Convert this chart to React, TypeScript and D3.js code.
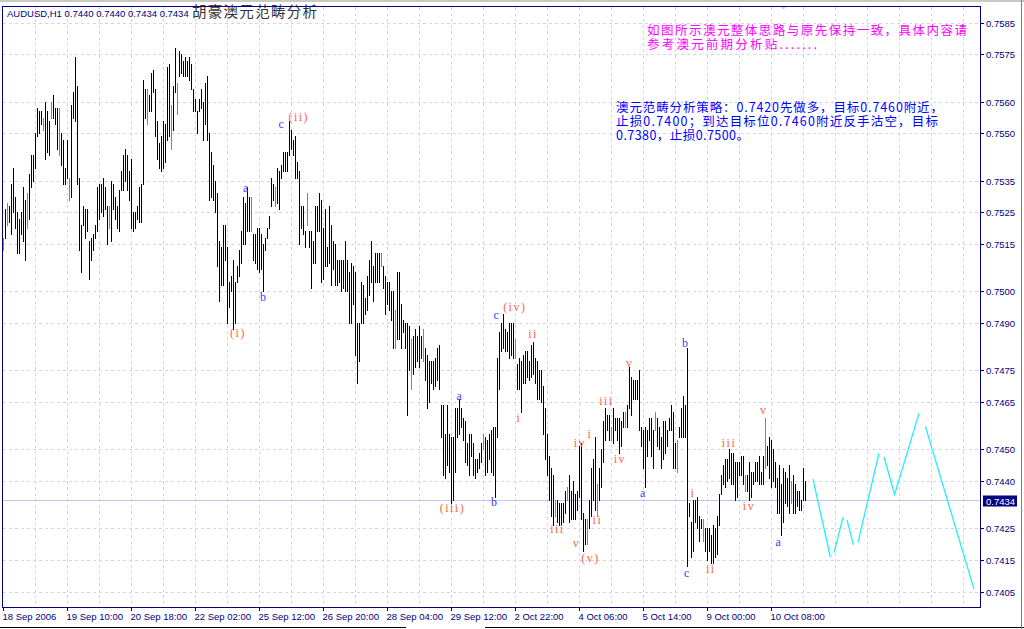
import React from 'react';
import * as d3 from 'd3';

// hourly bars, high / low
const highs = [
  0.7517, 0.7526, 0.7528, 0.7527, 0.7534, 0.7539, 0.7530, 0.7525, 0.7523, 0.7525,
  0.7533, 0.7529, 0.7531, 0.7537, 0.7543, 0.7543, 0.7550, 0.7558, 0.7557, 0.7557,
  0.7555, 0.7560, 0.7557, 0.7554, 0.7560, 0.7562, 0.7558, 0.7558, 0.7558, 0.7550,
  0.7548, 0.7539, 0.7548, 0.7536, 0.7559, 0.7563, 0.7574, 0.7565, 0.7536, 0.7521,
  0.7527, 0.7526, 0.7526, 0.7516, 0.7517, 0.7518, 0.7521, 0.7533, 0.7534, 0.7534,
  0.7536, 0.7533, 0.7527, 0.7527, 0.7535, 0.7534, 0.7530, 0.7527, 0.7532, 0.7538,
  0.7543, 0.7545, 0.7543, 0.7538, 0.7542, 0.7525, 0.7525, 0.7527, 0.7533, 0.7534,
  0.7567, 0.7564, 0.7564, 0.7562, 0.7569, 0.7570, 0.7564, 0.7554, 0.7547, 0.7549,
  0.7554, 0.7553, 0.7571, 0.7572, 0.7559, 0.7565, 0.7577, 0.7566, 0.7576, 0.7575,
  0.7573, 0.7574, 0.7573, 0.7574, 0.7572, 0.7564, 0.7561, 0.7557, 0.7561, 0.7564,
  0.7560, 0.7566, 0.7568, 0.7550, 0.7544, 0.7540, 0.7535, 0.7531, 0.7516, 0.7514,
  0.7521, 0.7521, 0.7514, 0.7503, 0.7505, 0.7510, 0.7503, 0.7508, 0.7513, 0.7519,
  0.7530, 0.7528, 0.7533, 0.7530, 0.7530, 0.7518, 0.7518, 0.7520, 0.7520, 0.7518,
  0.7515, 0.7517, 0.7520, 0.7524, 0.7536, 0.7534, 0.7533, 0.7539, 0.7538, 0.7540,
  0.7544, 0.7544, 0.7544, 0.7554, 0.7551, 0.7548, 0.7549, 0.7541, 0.7538, 0.7527,
  0.7527, 0.7519, 0.7531, 0.7519, 0.7519, 0.7516, 0.7527, 0.7527, 0.7531, 0.7529,
  0.7520, 0.7526, 0.7514, 0.7527, 0.7521, 0.7516, 0.7515, 0.7510, 0.7510, 0.7510,
  0.7510, 0.7516, 0.7510, 0.7506, 0.7509, 0.7508, 0.7506, 0.7490, 0.7490, 0.7503,
  0.7502, 0.7498, 0.7505, 0.7510, 0.7516, 0.7508, 0.7512, 0.7512, 0.7512, 0.7512,
  0.7508, 0.7505, 0.7503, 0.7503, 0.7500, 0.7500, 0.7494, 0.7506, 0.7506, 0.7496,
  0.7491, 0.7490, 0.7490, 0.7489, 0.7485, 0.7486, 0.7488, 0.7486, 0.7489, 0.7486,
  0.7488, 0.7482, 0.7480, 0.7478, 0.7478, 0.7478, 0.7479, 0.7482, 0.7483, 0.7464,
  0.7464, 0.7455, 0.7464, 0.7455, 0.7454, 0.7454, 0.7463, 0.7463, 0.7466, 0.7463,
  0.7460, 0.7459, 0.7452, 0.7455, 0.7455, 0.7452, 0.7447, 0.7447, 0.7449, 0.7452,
  0.7455, 0.7454, 0.7453, 0.7455, 0.7456, 0.7457, 0.7457, 0.7479, 0.7487, 0.7490,
  0.7493, 0.7488, 0.7487, 0.7490, 0.7490, 0.7490, 0.7485, 0.7477, 0.7479, 0.7478,
  0.7480, 0.7481, 0.7481, 0.7478, 0.7483, 0.7484, 0.7479, 0.7478, 0.7475, 0.7475,
  0.7470, 0.7463, 0.7455, 0.7448, 0.7444, 0.7442, 0.7434, 0.7434, 0.7433, 0.7433,
  0.7433, 0.7437, 0.7438, 0.7442, 0.7437, 0.7440, 0.7436, 0.7437, 0.7451, 0.7452,
  0.7430, 0.7428, 0.7428, 0.7434, 0.7444, 0.7447, 0.7454, 0.7439, 0.7444, 0.7450,
  0.7459, 0.7463, 0.7461, 0.7461, 0.7457, 0.7463, 0.7460, 0.7460, 0.7460, 0.7459,
  0.7462, 0.7462, 0.7464, 0.7476, 0.7473, 0.7472, 0.7472, 0.7472, 0.7475, 0.7457,
  0.7456, 0.7457, 0.7456, 0.7460, 0.7460, 0.7456, 0.7462, 0.7460, 0.7457, 0.7454,
  0.7459, 0.7459, 0.7456, 0.7460, 0.7464, 0.7462, 0.7452, 0.7453, 0.7457, 0.7463,
  0.7467, 0.7464, 0.7482, 0.7433, 0.7427, 0.7434, 0.7434, 0.7435, 0.7429, 0.7428,
  0.7428, 0.7425, 0.7425, 0.7425, 0.7423, 0.7426, 0.7425, 0.7429, 0.7436, 0.7442,
  0.7445, 0.7447, 0.7447, 0.7450, 0.7449, 0.7449, 0.7446, 0.7446, 0.7446, 0.7448,
  0.7448, 0.7442, 0.7442, 0.7446, 0.7443, 0.7443, 0.7446, 0.7446, 0.7448, 0.7443,
  0.7448, 0.7460, 0.7451, 0.7454, 0.7453, 0.7450, 0.7446, 0.7441, 0.7445, 0.7439,
  0.7444, 0.7443, 0.7441, 0.7445, 0.7440, 0.7442, 0.7439, 0.7437, 0.7437, 0.7434,
  0.7444, 0.7440,
];

const lows = [
  0.7513, 0.7517, 0.7521, 0.7522, 0.7518, 0.7525, 0.7520, 0.7512, 0.7512, 0.7518,
  0.7516, 0.7510, 0.7520, 0.7523, 0.7533, 0.7535, 0.7539, 0.7549, 0.7550, 0.7553,
  0.7551, 0.7542, 0.7544, 0.7543, 0.7555, 0.7555, 0.7553, 0.7545, 0.7543, 0.7540,
  0.7534, 0.7534, 0.7536, 0.7529, 0.7530, 0.7555, 0.7554, 0.7534, 0.7513, 0.7506,
  0.7521, 0.7517, 0.7519, 0.7504, 0.7510, 0.7513, 0.7517, 0.7519, 0.7523, 0.7525,
  0.7524, 0.7526, 0.7515, 0.7520, 0.7516, 0.7526, 0.7523, 0.7520, 0.7519, 0.7532,
  0.7532, 0.7535, 0.7532, 0.7529, 0.7520, 0.7519, 0.7520, 0.7523, 0.7522, 0.7522,
  0.7534, 0.7555, 0.7553, 0.7557, 0.7557, 0.7563, 0.7549, 0.7542, 0.7539, 0.7538,
  0.7539, 0.7541, 0.7548, 0.7549, 0.7545, 0.7551, 0.7563, 0.7556, 0.7568, 0.7569,
  0.7568, 0.7568, 0.7568, 0.7567, 0.7564, 0.7557, 0.7557, 0.7550, 0.7557, 0.7558,
  0.7548, 0.7553, 0.7548, 0.7529, 0.7530, 0.7529, 0.7525, 0.7508, 0.7497, 0.7502,
  0.7502, 0.7510, 0.7490, 0.7495, 0.7500, 0.7488, 0.7490, 0.7503, 0.7505, 0.7509,
  0.7515, 0.7515, 0.7519, 0.7519, 0.7519, 0.7510, 0.7509, 0.7507, 0.7506, 0.7507,
  0.7500, 0.7513, 0.7517, 0.7520, 0.7527, 0.7529, 0.7527, 0.7528, 0.7526, 0.7536,
  0.7538, 0.7538, 0.7538, 0.7543, 0.7545, 0.7543, 0.7536, 0.7536, 0.7515, 0.7520,
  0.7518, 0.7514, 0.7521, 0.7514, 0.7501, 0.7509, 0.7509, 0.7519, 0.7519, 0.7503,
  0.7504, 0.7508, 0.7508, 0.7509, 0.7502, 0.7507, 0.7502, 0.7502, 0.7503, 0.7500,
  0.7501, 0.7500, 0.7500, 0.7490, 0.7490, 0.7496, 0.7480, 0.7471, 0.7478, 0.7490,
  0.7490, 0.7493, 0.7494, 0.7499, 0.7503, 0.7497, 0.7503, 0.7503, 0.7503, 0.7508,
  0.7501, 0.7493, 0.7496, 0.7494, 0.7491, 0.7482, 0.7482, 0.7485, 0.7485, 0.7482,
  0.7487, 0.7482, 0.7461, 0.7475, 0.7469, 0.7474, 0.7476, 0.7478, 0.7476, 0.7479,
  0.7478, 0.7472, 0.7463, 0.7465, 0.7471, 0.7469, 0.7470, 0.7472, 0.7469, 0.7454,
  0.7442, 0.7441, 0.7445, 0.7443, 0.7433, 0.7434, 0.7443, 0.7454, 0.7455, 0.7457,
  0.7453, 0.7446, 0.7445, 0.7442, 0.7448, 0.7442, 0.7441, 0.7443, 0.7444, 0.7446,
  0.7450, 0.7442, 0.7443, 0.7447, 0.7443, 0.7442, 0.7435, 0.7454, 0.7469, 0.7481,
  0.7482, 0.7481, 0.7481, 0.7479, 0.7480, 0.7479, 0.7479, 0.7469, 0.7469, 0.7462,
  0.7471, 0.7471, 0.7473, 0.7472, 0.7473, 0.7474, 0.7471, 0.7466, 0.7466, 0.7465,
  0.7455, 0.7447, 0.7442, 0.7434, 0.7429, 0.7426, 0.7429, 0.7427, 0.7426, 0.7426,
  0.7427, 0.7430, 0.7434, 0.7427, 0.7428, 0.7428, 0.7428, 0.7431, 0.7435, 0.7428,
  0.7418, 0.7420, 0.7420, 0.7425, 0.7429, 0.7434, 0.7431, 0.7429, 0.7434, 0.7438,
  0.7446, 0.7453, 0.7456, 0.7453, 0.7453, 0.7452, 0.7456, 0.7453, 0.7449, 0.7451,
  0.7457, 0.7457, 0.7457, 0.7463, 0.7461, 0.7466, 0.7466, 0.7466, 0.7456, 0.7451,
  0.7444, 0.7438, 0.7448, 0.7453, 0.7448, 0.7444, 0.7456, 0.7451, 0.7450, 0.7444,
  0.7447, 0.7449, 0.7451, 0.7456, 0.7456, 0.7444, 0.7444, 0.7443, 0.7454, 0.7454,
  0.7454, 0.7454, 0.7413, 0.7429, 0.7416, 0.7418, 0.7427, 0.7425, 0.7421, 0.7425,
  0.7421, 0.7418, 0.7415, 0.7418, 0.7414, 0.7414, 0.7416, 0.7417, 0.7426, 0.7436,
  0.7439, 0.7438, 0.7440, 0.7441, 0.7439, 0.7439, 0.7434, 0.7435, 0.7442, 0.7442,
  0.7439, 0.7437, 0.7437, 0.7434, 0.7435, 0.7439, 0.7440, 0.7440, 0.7439, 0.7439,
  0.7439, 0.7444, 0.7445, 0.7441, 0.7438, 0.7440, 0.7438, 0.7430, 0.7430, 0.7423,
  0.7427, 0.7433, 0.7432, 0.7430, 0.7433, 0.7430, 0.7430, 0.7432, 0.7431, 0.7431,
  0.7434, 0.7434,
];

// bars drawn in lime
const greenBars = [0, 2, 12, 20, 24, 28, 33, 53, 72, 84, 87, 124, 136, 152, 189, 196, 204, 210,
  240, 256, 276, 282, 292, 297, 304, 311, 326, 337, 350, 371, 381, 394];

const priceTicks = [0.7585, 0.7575, 0.7560, 0.7550, 0.7535, 0.7525, 0.7515, 0.7500,
  0.7490, 0.7475, 0.7465, 0.7450, 0.7440, 0.7425, 0.7415, 0.7405];

const timeTickBars = [0, 32, 64, 96, 128, 160, 192, 224, 256, 288, 320, 352, 384];
const timeTickLabels = ['18 Sep 2006', '19 Sep 10:00', '20 Sep 18:00', '22 Sep 02:00', '25 Sep 12:00',
  '26 Sep 20:00', '28 Sep 04:00', '29 Sep 12:00', '2 Oct 22:00', '4 Oct 06:00', '5 Oct 14:00',
  '9 Oct 00:00', '10 Oct 08:00'];

const lastPrice = 0.7434;

// hand drawn forecast path (bar index, price)
const forecastSegments: [number, number][][] = [
  [[405, 0.74406], [413.7, 0.74159]],
  [[415.5, 0.74173], [420, 0.74285]],
  [[422, 0.74277], [425.2, 0.74198]],
  [[427.5, 0.74206], [438, 0.74488]],
  [[440.5, 0.74476], [445.8, 0.74358], [458, 0.74614]],
  [[461.2, 0.74573], [485.5, 0.74058]],
];

// Elliott wave marks
const waveTexts = ['(ii)', 'c', 'a', 'b', '(i)', 'c', '(iv)', 'ii', 'i', 'a', '(iii)', 'b', 'iii', 'iv', 'i',
  'v', '(v)', 'ii', 'iii', 'iv', 'v', 'a', 'b', 'c', 'i', 'ii', 'iii', 'iv', 'v', 'a'];
const waveBars = [147.9, 139.4, 121.7, 130.4, 117.5, 246.9, 255.9, 265, 257.9, 228.4, 224.7, 245.9, 277.2,
  288.4, 293.4, 286.7, 293.7, 297.2, 301.7, 308.4, 313.4, 320.2, 341.4, 342.2, 345, 353.9, 363, 373, 380.4, 388];
const wavePrices = [0.75552, 0.7553, 0.75328, 0.74981, 0.74869, 0.74925, 0.7495, 0.74864, 0.746, 0.74669,
  0.74314, 0.74335, 0.74248, 0.74521, 0.74549, 0.74205, 0.74157, 0.74277, 0.74653, 0.74469, 0.74774,
  0.74363, 0.74836, 0.74108, 0.74361, 0.74121, 0.74519, 0.74321, 0.74625, 0.74206];
const waveColors = ['o', 'b', 'b', 'b', 'o', 'b', 'o', 'o', 'o', 'b', 'o', 'b', 'o', 'o', 'o',
  'o', 'o', 'o', 'o', 'o', 'o', 'b', 'b', 'b', 'o', 'o', 'o', 'o', 'o', 'b'];

const noteMagenta = ['如图所示澳元整体思路与原先保持一致，具体内容请', '参考澳元前期分析贴.......'];
const noteBlue = ['澳元范畴分析策略：0.7420先做多，目标0.7460附近，', '止损0.7400；到达目标位0.7460附近反手沽空，目标',
  '0.7380，止损0.7500。'];

const W = 1024;
const H = 629;
const left = 2, top = 6, right = 980, bottom = 607;
const navy = '#000080';
const gridColor = '#d4d4ee';
const sans = "'Liberation Sans', Arial, sans-serif";
const cjk = "'Noto Sans CJK SC', sans-serif";

const App = () => {
  const x = d3.scaleLinear().domain([0, 400]).range([3, 803]);
  const y = d3.scaleLinear().domain([0.7405, 0.7585]).range([591.7, 22.7]);
  const green = new Set(greenBars);
  const gridBars = d3.range(16, 481, 16);
  const line = d3.line<[number, number]>().x(d => x(d[0])).y(d => y(d[1]));
  const bidY = Math.round(y(lastPrice)) + 0.5;

  return (
    <svg width={W} height={H} style={{ position: 'fixed', left: 0, top: 0, background: '#fff' }}
      fontFamily={sans}>
      <rect x={0} y={0} width={W} height={H} fill="#fff" />
      <rect x={0} y={0} width={W} height={2} fill="#c8c8c8" />

      {/* grid */}
      {priceTicks.map(v => {
        const yy = Math.round(y(v)) + 0.5;
        return <line key={'h' + v} x1={left + 1} x2={right} y1={yy} y2={yy} stroke={gridColor} strokeDasharray="3,3" />;
      })}
      {gridBars.map(b => {
        const xx = Math.round(x(b)) + 0.5;
        return <line key={'v' + b} x1={xx} x2={xx} y1={top + 1} y2={bottom} stroke={gridColor} strokeDasharray="3,3" />;
      })}

      {/* bid line */}
      <line x1={left} x2={right} y1={bidY} y2={bidY} stroke="#c4c4ec" />

      {/* bars */}
      {highs.map((hi, i) => {
        const xx = Math.round(x(i)) + 0.5;
        const y1 = Math.round(y(hi));
        const y2 = Math.round(y(lows[i])) + 1;
        return <line key={'b' + i} x1={xx} x2={xx} y1={y1} y2={Math.max(y2, y1 + 2)}
          stroke={green.has(i) ? '#00e000' : '#000'} strokeWidth={1} />;
      })}

      {/* forecast */}
      {forecastSegments.map((s, k) => (
        <path key={'f' + k} d={line(s) || ''} fill="none" stroke="#22eeff" strokeWidth={1.3} />
      ))}

      {/* wave labels */}
      {waveTexts.map((t, k) => (
        <text key={'w' + k} x={x(waveBars[k])} y={y(wavePrices[k])} textAnchor="middle" dominantBaseline="central"
          fontFamily="'Liberation Serif', 'Times New Roman', serif" fontSize={12} letterSpacing={1.5}
          fill={waveColors[k] === 'o' ? '#ff6347' : '#3c3cff'}>{t}</text>
      ))}

      {/* notes */}
      {noteMagenta.map((t, k) => (
        <text key={'m' + k} x={647} y={35 + k * 14} fontFamily={cjk} fontSize={12.5} fill="#ff00ff"
          textLength={k === 0 ? 320 : 170} lengthAdjust="spacing">{t}</text>
      ))}
      {noteBlue.map((t, k) => (
        <text key={'n' + k} x={616} y={112 + k * 14} fontFamily={cjk} fontSize={12.5} fill="#0000ff"
          textLength={[327, 322, 133][k]} lengthAdjust="spacing">{t}</text>
      ))}

      {/* header */}
      <text x={7} y={17} fontSize={9.5} fill={navy}>AUDUSD,H1  0.7440 0.7440 0.7434 0.7434</text>
      <text x={192} y={17} fontFamily={cjk} fontSize={14.5} fill="#333" textLength={125}>胡豪澳元范畴分析</text>
      <polygon points="780,6 787,6 783.5,9.5" fill="#c8c8e0" />

      {/* frame */}
      <line x1={left + 0.5} x2={left + 0.5} y1={top} y2={bottom} stroke={navy} />
      <line x1={left} x2={right} y1={top + 0.5} y2={top + 0.5} stroke={navy} />
      <line x1={right + 0.5} x2={right + 0.5} y1={top} y2={bottom + 1} stroke={navy} />
      <line x1={left} x2={right + 1} y1={bottom + 0.5} y2={bottom + 0.5} stroke={navy} />

      {/* price axis */}
      {priceTicks.map(v => {
        const yy = Math.round(y(v)) + 0.5;
        return (
          <g key={'p' + v}>
            <line x1={right} x2={right + 4} y1={yy} y2={yy} stroke={navy} />
            <text x={986} y={yy} dominantBaseline="central" fontSize={9.5} fill={navy}>{v.toFixed(4)}</text>
          </g>
        );
      })}
      <rect x={983} y={bidY - 5} width={34} height={11} fill={navy} />
      <text x={986} y={bidY + 0.5} dominantBaseline="central" fontSize={9.5} fill="#fff">{lastPrice.toFixed(4)}</text>

      {/* time axis */}
      {timeTickBars.map((b, k) => {
        const xx = Math.round(x(b)) + 0.5;
        return (
          <g key={'t' + b}>
            <line x1={xx} x2={xx} y1={bottom} y2={bottom + 4} stroke={navy} />
            <text x={xx - 1} y={620} fontSize={9.5} fill={navy}>{timeTickLabels[k]}</text>
          </g>
        );
      })}

      <line x1={0} x2={406} y1={627.5} y2={627.5} stroke="#000" />
      <line x1={485} x2={W} y1={627.5} y2={627.5} stroke="#000" />
      <line x1={1021.5} x2={1021.5} y1={0} y2={H} stroke="#808080" />
    </svg>
  );
};

export default App;
